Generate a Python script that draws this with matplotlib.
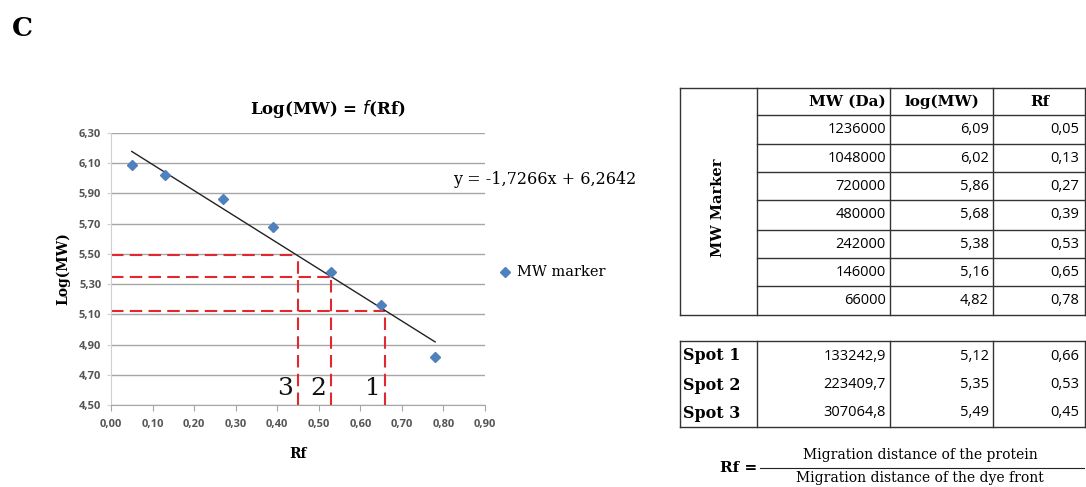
import numpy as np
import matplotlib.pyplot as plt
from matplotlib.ticker import FuncFormatter

# MW marker data
mw_da = [1236000, 1048000, 720000, 480000, 242000, 146000, 66000]
log_mw = [6.09, 6.02, 5.86, 5.68, 5.38, 5.16, 4.82]
rf = [0.05, 0.13, 0.27, 0.39, 0.53, 0.65, 0.78]

# Spots
spot_names = ["Spot 1", "Spot 2", "Spot 3"]
spot_mw = ["133242,9", "223409,7", "307064,8"]
spot_log = [5.12, 5.35, 5.49]
spot_rf = [0.66, 0.53, 0.45]
spot_numbers = ["1", "2", "3"]

# Linear fit shown on the chart
slope = -1.7266
intercept = 6.2642

col_headers = ["MW (Da)", "log(MW)", "Rf"]

serif = ["DejaVu Serif"]
sans = ["Open Sans", "DejaVu Sans"]


def comma(v, digits=2):
    return f"{v:.{digits}f}".replace(".", ",")


fig = plt.figure(figsize=(10.86, 4.87), dpi=100)

# ---- chart ----
ax = fig.add_axes([111 / 1086, 1 - 405 / 487, 374 / 1086, 272 / 487])
ax.set_xlim(0, 0.9)
ax.set_ylim(4.5, 6.3)
ax.set_xticks(np.arange(0, 0.91, 0.1))
ax.set_yticks(np.arange(4.5, 6.31, 0.2))
ax.xaxis.set_major_formatter(FuncFormatter(lambda v, p: comma(v)))
ax.yaxis.set_major_formatter(FuncFormatter(lambda v, p: comma(v)))
ax.grid(axis="y", color="#a6a6a6", lw=1)
ax.set_axisbelow(True)
for s in ["top", "right"]:
    ax.spines[s].set_visible(False)
ax.spines["bottom"].set_color("#a6a6a6")
ax.spines["left"].set_color("#d0d0d0")
ax.tick_params(axis="x", length=4, color="#a6a6a6", pad=6)
ax.tick_params(axis="y", length=3, color="#d0d0d0", pad=4)
for lab in ax.get_xticklabels() + ax.get_yticklabels():
    lab.set_fontsize(8)
    lab.set_fontweight("bold")
    lab.set_color("#555555")
    lab.set_family(sans)

# markers and trend line
ax.plot(rf, log_mw, "D", color="#4f81bd", ms=5, ls="none", zorder=4)
fit_x = np.array([min(rf), max(rf)])
ax.plot(fit_x, slope * fit_x + intercept, color="#222222", lw=1, zorder=3)

# red dashed read-off lines
for x, y in zip(spot_rf, spot_log):
    ax.plot([0, x], [y, y], color="#e0282e", lw=1.5, dashes=(6, 3), zorder=2)
    ax.plot([x, x], [4.5, y], color="#e0282e", lw=1.5, dashes=(6, 3), zorder=2)
for x, n in zip(spot_rf, spot_numbers):
    ax.text(x - 0.012, 4.53, n, ha="right", va="bottom", fontsize=18,
            family=serif, color="#111111")

ax.set_title("Log(MW) = $\\mathbf{\\it{f}}$(Rf)", fontsize=12, fontweight="bold",
             family=serif, pad=14, x=0.58)
ax.set_xlabel("Rf", fontsize=10, fontweight="bold", family=serif, labelpad=12)
ax.set_ylabel("Log(MW)", fontsize=10, fontweight="bold", family=serif, labelpad=6)

# ---- overlay in pixel coordinates ----
ov = fig.add_axes([0, 0, 1, 1])
ov.set_xlim(0, 1086)
ov.set_ylim(487, 0)
ov.axis("off")
ov.patch.set_alpha(0)

ov.text(12, 28, "C", fontsize=19, fontweight="bold", family=serif, va="center")
ov.text(453, 180, "y = -" + comma(-slope, 4) + "x + " + comma(intercept, 4),
        fontsize=11.5, family=serif, va="center")
ov.plot([505], [272], "D", color="#4f81bd", ms=5)
ov.text(517, 272, "MW marker", fontsize=10.5, family=serif, va="center")

lc = "#333333"
# main table
x0, x1, x2, x3, x4 = 680, 757, 890, 993, 1085
row_y = [88, 115, 144, 172, 200, 230, 258, 286, 315]
ov.plot([x0, x4], [row_y[0], row_y[0]], color=lc, lw=1)
ov.plot([x0, x4], [row_y[-1], row_y[-1]], color=lc, lw=1)
for y in row_y[1:-1]:
    ov.plot([x1, x4], [y, y], color=lc, lw=1)
for x in [x0, x1, x2, x3, x4]:
    ov.plot([x, x], [row_y[0], row_y[-1]], color=lc, lw=1)
ov.text((x0 + x1) / 2, 208, "MW Marker", rotation=90, ha="center", va="center",
        fontsize=10.5, fontweight="bold", family=serif)
for cx, h in zip([847, 942, 1040], col_headers):
    ov.text(cx, 102, h, ha="center", va="center", fontsize=11,
            fontweight="bold", family=serif)
for i in range(len(mw_da)):
    cy = (row_y[i + 1] + row_y[i + 2]) / 2
    ov.text(x2 - 4, cy, str(mw_da[i]), ha="right", va="center", fontsize=10.5, family=sans)
    ov.text(x3 - 4, cy, comma(log_mw[i]), ha="right", va="center", fontsize=10.5, family=sans)
    ov.text(x4 - 6, cy, comma(rf[i]), ha="right", va="center", fontsize=10.5, family=sans)

# spot table
sy0, sy1 = 341, 427
ov.plot([x0, x4], [sy0, sy0], color=lc, lw=1)
ov.plot([x0, x4], [sy1, sy1], color=lc, lw=1)
for x in [x0, x1, x2, x3, x4]:
    ov.plot([x, x], [sy0, sy1], color=lc, lw=1)
for i, cy in enumerate([356, 385, 413]):
    ov.text(x0 + 3, cy, spot_names[i], ha="left", va="center", fontsize=11.5,
            fontweight="bold", family=serif)
    ov.text(x2 - 4, cy, spot_mw[i], ha="right", va="center", fontsize=10.5, family=sans)
    ov.text(x3 - 4, cy, comma(spot_log[i]), ha="right", va="center", fontsize=10.5, family=sans)
    ov.text(x4 - 6, cy, comma(spot_rf[i]), ha="right", va="center", fontsize=10.5, family=sans)

# Rf formula
ov.text(757, 468, "Rf =", ha="right", va="center", fontsize=11, fontweight="bold", family=serif)
ov.plot([760, 1084], [468, 468], color="#222222", lw=0.8)
ov.text(920, 462, "Migration distance of the protein", ha="center", va="bottom",
        fontsize=10, family=serif)
ov.text(920, 471, "Migration distance of the dye front", ha="center", va="top",
        fontsize=10, family=serif)

fig.savefig("out.png", dpi=100)
